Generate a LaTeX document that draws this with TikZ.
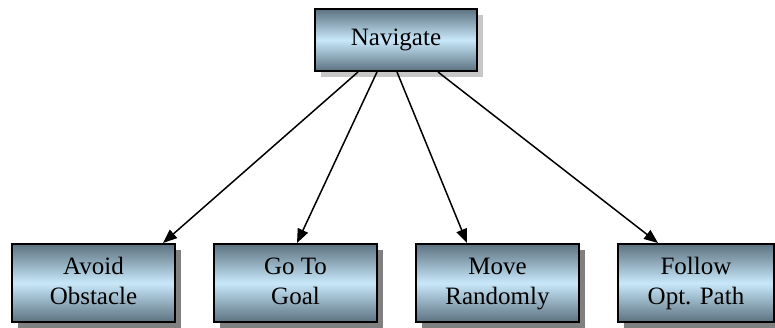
\documentclass[tikz,border=0pt]{standalone}
\usepackage{fontspec}
\setmainfont{Liberation Serif}
\usetikzlibrary{calc,shadows,arrows.meta}
\definecolor{boxedge}{RGB}{92,114,128}
\definecolor{boxmid}{RGB}{200,232,250}
\tikzset{
  taskbox/.style={rectangle, draw=black, line width=1pt, inner sep=0pt,
    top color=boxedge, bottom color=boxedge, middle color=boxmid,
    align=center, font=\fontsize{12.5}{15}\selectfont,
    general shadow={fill=black!50, shadow xshift=3pt, shadow yshift=-3pt}},
  leafbox/.style={taskbox, minimum width=81.5pt, minimum height=39pt},
  rootbox/.style={taskbox, minimum width=81pt, minimum height=31pt,
    general shadow={fill=black!22, shadow xshift=3pt, shadow yshift=-3pt}},
  link/.style={line width=0.75pt, -{Triangle[length=7pt,width=5.5pt]}}
}
\begin{document}
\begin{tikzpicture}[x=0.5pt,y=-0.5pt]
\useasboundingbox (0,0) rectangle (775,327);
\clip (0,0) rectangle (775,327);
\node[rootbox] (nav) at (396,40) {Navigate};
\node[leafbox] (b1) at (93.5,283) {Avoid\strut\\Obstacle\strut};
\node[leafbox] (b2) at (295.5,283) {Go To\strut\\Goal\strut};
\node[leafbox] (b3) at (497.5,283) {Move\strut\\Randomly\strut};
\node[leafbox, minimum width=78pt] (b4) at (696,283) {Follow\strut\\Opt. Path\strut};
\draw[link] ($(nav.south)+(-38,0)$) -- ($(b1.north)+(69.5,0)$);
\draw[link] ($(nav.south)+(-19,0)$) -- ($(b2.north)+(1.5,0)$);
\draw[link] ($(nav.south)+(1,0)$) -- ($(b3.north)+(-30.5,0)$);
\draw[link] ($(nav.south)+(42,0)$) -- ($(b4.north)+(-38,0)$);
\end{tikzpicture}
\end{document}
